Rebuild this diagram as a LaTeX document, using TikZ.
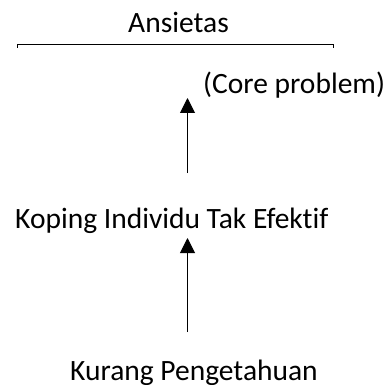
\documentclass[tikz,border=0pt]{standalone}
\usepackage{fontspec}
\setmainfont{Carlito}[Ligatures=NoCommon]
\usetikzlibrary{arrows.meta}
\tikzset{
  lbl/.style={inner sep=0pt, font=\fontsize{29.5}{32}\selectfont},
  conn/.style={line width=1pt, -{Triangle[length=15pt,width=15pt]}},
  bar/.style={line width=1pt}
}
\begin{document}
\begin{tikzpicture}[x=1pt,y=1pt]
\useasboundingbox (0,0) rectangle (384,-385);
\node[lbl, anchor=base] (ans) at (178.5,-33) {Ansietas};
\coordinate (bl) at (17,-45);
\coordinate (br) at (333,-45);
\draw[bar] ([yshift=-3pt]bl) -- (bl) -- (br) -- ([yshift=-3pt]br);
\node[lbl, anchor=base west] (core) at (203,-94) {(Core problem)};
\node[lbl, anchor=base west] (kop) at (15,-228) {Koping Individu Tak Efektif};
\node[lbl, anchor=base west] (kur) at (70,-380) {Kurang Pengetahuan};
\coordinate (a1s) at (187.5,-173);
\coordinate (a1e) at (187.5,-98);
\coordinate (a2s) at (187.5,-332);
\coordinate (a2e) at (187.5,-238);
\draw[conn] (a1s) -- (a1e);
\draw[conn] (a2s) -- (a2e);
\end{tikzpicture}
\end{document}
